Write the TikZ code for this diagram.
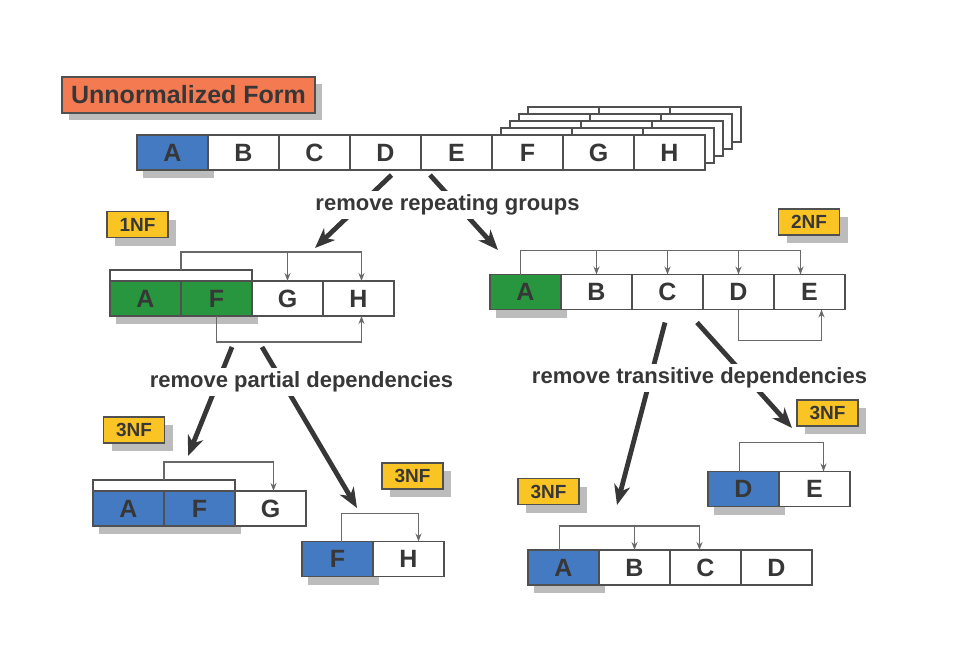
\documentclass[tikz,border=0pt]{standalone}
\usepackage{fontspec}
\setmainfont{Liberation Sans}
\usetikzlibrary{positioning, arrows.meta, shadows, backgrounds}
\definecolor{keyblue}{RGB}{68, 122, 194}
\definecolor{keygreen}{RGB}{40, 150, 62}
\definecolor{nfyellow}{RGB}{250, 196, 36}
\definecolor{unnormorange}{RGB}{244, 122, 82}
\definecolor{cellline}{RGB}{80, 80, 80}
\definecolor{depgray}{RGB}{105, 105, 105}
\definecolor{inkgray}{RGB}{55, 55, 55}
\definecolor{shadowgray}{RGB}{188, 188, 188}

\tikzset{
  cell/.style={draw=cellline, fill=white, line width=0.6pt, minimum width=35.5pt, minimum height=17.5pt,
    inner sep=0pt, outer sep=0pt, text=inkgray, font=\fontsize{12.5}{14}\selectfont\bfseries},
  keycell/.style={cell, fill=#1, drop shadow={shadow xshift=3pt, shadow yshift=-4pt, fill=shadowgray, opacity=1}},
  keybar/.style={draw=cellline, fill=white, line width=0.6pt, minimum width=71pt, minimum height=5.5pt,
    inner sep=0pt, outer sep=0pt, anchor=south west},
  pagecopy/.style={draw=cellline, fill=white, line width=0.6pt},
  nflabel/.style={draw=cellline, fill=nfyellow, line width=0.6pt, minimum width=30.5pt, minimum height=13pt,
    inner sep=0pt, text=inkgray, font=\fontsize{9.5}{11}\selectfont\bfseries,
    drop shadow={shadow xshift=4pt, shadow yshift=-4pt, fill=shadowgray, opacity=1}},
  formlabel/.style={draw=cellline, fill=unnormorange, line width=0.6pt, minimum width=126.5pt, minimum height=18pt,
    inner sep=0pt, text=inkgray, font=\fontsize{12.5}{14}\selectfont\bfseries,
    drop shadow={shadow xshift=3.5pt, shadow yshift=-3.5pt, fill=shadowgray, opacity=1}},
  steplabel/.style={fill=white, inner sep=2pt, text=inkgray, font=\fontsize{11}{13}\selectfont\bfseries},
  deptip/.style={draw=depgray, line width=0.6pt, -{Stealth[length=4pt, width=3pt]}},
  bigarrow/.style={draw=inkgray, line width=2.4pt, -{Stealth[length=10pt, width=8pt, inset=3pt]}}
}

\begin{document}
\begin{tikzpicture}[x=0.5pt, y=-0.5pt]
  \useasboundingbox (0,0) rectangle (963,648);

  \node[formlabel] (unf) at (188.5,95) {Unnormalized Form};

  \node[keycell=keyblue] (a0) at (172.5,152.5) {A};
  \node[cell, right=0pt of a0] (b0) {B};
  \node[cell, right=0pt of b0] (c0) {C};
  \node[cell, right=0pt of c0] (d0) {D};
  \node[cell, right=0pt of d0] (e0) {E};
  \node[cell, right=0pt of e0] (f0) {F};
  \node[cell, right=0pt of f0] (g0) {G};
  \node[cell, right=0pt of g0] (h0) {H};
  \begin{scope}[on background layer]
    \foreach \k in {4,3,2,1}
      \foreach \c in {f0,g0,h0}
        \draw[pagecopy] ([shift={(9*\k,-7*\k)}]\c.south west) rectangle ([shift={(9*\k,-7*\k)}]\c.north east);
  \end{scope}

  \node[nflabel] (nf1) at (137.5,224.5) {1NF};
  \node[keycell=keygreen] (a1) at (145.5,298.5) {A};
  \node[keycell=keygreen, right=0pt of a1] (f1) {F};
  \node[cell, right=0pt of f1] (g1) {G};
  \node[cell, right=0pt of g1] (h1) {H};
  \node[keybar] (k1) at (a1.north west) {};
  \draw[deptip] (k1.north) -- ++(0,-18) coordinate (t1) -| ([xshift=1.5pt]h1.north);
  \draw[deptip] (g1.north |- t1) -- (g1.north);
  \draw[deptip] (f1.south) -- ++(0,26) -| ([xshift=1.5pt]h1.south);

  \node[nflabel] (nf2) at (809,222) {2NF};
  \node[keycell=keygreen] (a2) at (525.5,292) {A};
  \node[cell, right=0pt of a2] (b2) {B};
  \node[cell, right=0pt of b2] (c2) {C};
  \node[cell, right=0pt of c2] (d2) {D};
  \node[cell, right=0pt of d2] (e2) {E};
  \draw[deptip] ([xshift=-2.5pt]a2.north) -- ++(0,-24) coordinate (t2) -| ([xshift=-4.5pt]e2.north);
  \draw[deptip] (b2.north |- t2) -- (b2.north);
  \draw[deptip] (c2.north |- t2) -- (c2.north);
  \draw[deptip] (d2.north |- t2) -- (d2.north);
  \draw[deptip] (d2.south) -- ++(0,31) -| ([xshift=6pt]e2.south);

  \node[nflabel] (nf3a) at (134,430) {3NF};
  \node[keycell=keyblue] (a3) at (128.5,508.5) {A};
  \node[keycell=keyblue, right=0pt of a3] (f3) {F};
  \node[cell, right=0pt of f3] (g3) {G};
  \node[keybar] (k3) at (a3.north west) {};
  \draw[deptip] (k3.north) -- ++(0,-18) -| ([xshift=1.5pt]g3.north);

  \node[nflabel] (nf3b) at (412.5,476) {3NF};
  \node[keycell=keyblue] (f4) at (337.5,559) {F};
  \node[cell, right=0pt of f4] (h4) {H};
  \draw[deptip] ([xshift=2pt]f4.north) -- ++(0,-28) -| ([xshift=5pt]h4.north);

  \node[nflabel] (nf3c) at (827.5,413) {3NF};
  \node[keycell=keyblue] (d5) at (743.5,489) {D};
  \node[cell, right=0pt of d5] (e5) {E};
  \draw[deptip] ([xshift=-2pt]d5.north) -- ++(0,-29) -| ([xshift=4.5pt]e5.north);

  \node[nflabel] (nf3d) at (548.5,491.5) {3NF};
  \node[keycell=keyblue] (a6) at (563.5,567.5) {A};
  \node[cell, right=0pt of a6] (b6) {B};
  \node[cell, right=0pt of b6] (c6) {C};
  \node[cell, right=0pt of c6] (d6) {D};
  \draw[deptip] ([xshift=-2pt]a6.north) -- ++(0,-24) coordinate (t6) -| ([xshift=-3pt]c6.north);
  \draw[deptip] (b6.north |- t6) -- (b6.north);

  \coordinate (to1nf) at (315,248);
  \coordinate (to2nf) at (498,250);
  \coordinate (to3a) at (188,456);
  \coordinate (to3b) at (357,508);
  \coordinate (to3d) at (617,505);
  \coordinate (to3c) at (792,428);
  \draw[bigarrow] ([shift={(6,5)}]d0.south) -- (to1nf);
  \draw[bigarrow] ([shift={(9,5)}]e0.south west) -- (to2nf);
  \draw[bigarrow] ([shift={(15.5,31)}]f1.south) -- (to3a);
  \draw[bigarrow] ([shift={(10,31)}]g1.south west) -- (to3b);
  \draw[bigarrow] ([shift={(-2.5,13)}]c2.south) -- (to3d);
  \draw[bigarrow] ([shift={(29.5,13)}]c2.south) -- (to3c);

  \node[steplabel] (rrg) at (447.5,205) {remove repeating groups};
  \node[steplabel] (rpd) at (301.5,382) {remove partial dependencies};
  \node[steplabel] (rtd) at (699.5,378) {remove transitive dependencies};
\end{tikzpicture}
\end{document}
